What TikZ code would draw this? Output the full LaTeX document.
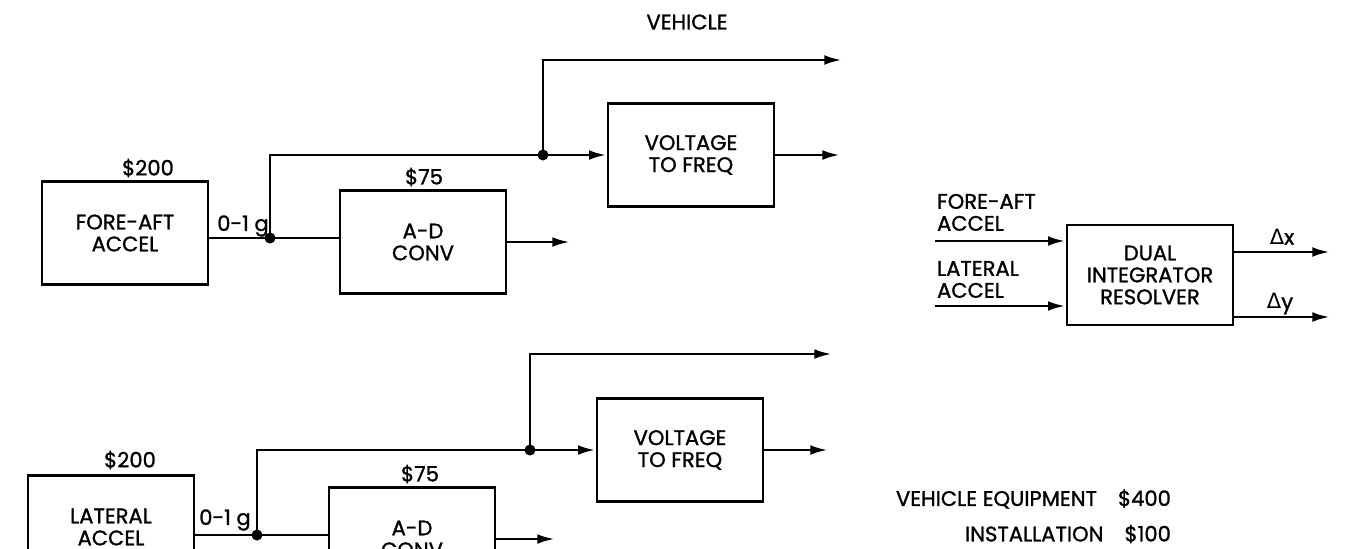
\documentclass[tikz,border=0pt]{standalone}
\usepackage{fontspec}
\setmainfont{Poppins}[FakeBold=1.2]
\newfontfamily\grk{DejaVu Sans}
\usetikzlibrary{arrows.meta}
\begin{document}
\begin{tikzpicture}[x=0.02cm,y=-0.02cm,>={Latex[length=10pt,width=5.5pt]},font=\fontsize{12}{12.5}\selectfont]
  \tikzstyle{block}=[draw, line width=1.6pt, minimum width=3.32cm, minimum height=2.06cm, align=center, inner sep=2pt]
  \tikzstyle{wire}=[line width=1.6pt]
  \tikzstyle{sig}=[wire, ->]
  \tikzstyle{dot}=[circle, fill, inner sep=0pt, minimum size=0.22cm]
  \tikzstyle{label}=[inner sep=1pt, align=center]

  \useasboundingbox (0,0) rectangle (1345,548);
  \clip (0,0) rectangle (1345,548);

  \node[label] (veh) at (687,22) {VEHICLE};

  % fore-aft channel
  \node[block] (accx) at (125,233) {FORE-AFT\\ACCEL};
  \node[label] (costx) at (148,168) {\$200};
  \node[block] (adx) at (423,242) {A-D\\CONV};
  \node[label] (adcx) at (424,177) {\$75};
  \node[block] (vfx) at (691,155) {VOLTAGE\\TO FREQ};
  \coordinate (jx) at (270,238);
  \coordinate (kx) at (543,155);
  \coordinate (outx) at (842,60);
  \coordinate (adox) at (570,242);
  \coordinate (vfox) at (840,155);
  \node[label] (gx) at (243,226) {0-1 g};

  \draw[wire] (accx.east |- jx) -- (jx) -- (adx.west |- jx);
  \draw[wire] (jx) |- (kx);
  \draw[sig] (kx) -- (vfx);
  \draw[sig] (kx) |- (outx);
  \draw[sig] (adx) -- (adox);
  \draw[sig] (vfx) -- (vfox);
  \node[dot] (jxd) at (jx) {};
  \node[dot] (kxd) at (kx) {};

  % lateral channel
  \node[block] (accy) at (111,527) {LATERAL\\ACCEL};
  \node[label] (costy) at (130,460) {\$200};
  \node[block] (ady) at (412,539) {A-D\\CONV};
  \node[label] (adcy) at (420,474) {\$75};
  \node[block] (vfy) at (680,450) {VOLTAGE\\TO FREQ};
  \coordinate (jy) at (257,535);
  \coordinate (ky) at (530,450);
  \coordinate (outy) at (832,354);
  \coordinate (adoy) at (555,539);
  \coordinate (vfoy) at (828,450);
  \node[label] (gy) at (225,520) {0-1 g};

  \draw[wire] (accy.east |- jy) -- (jy) -- (ady.west |- jy);
  \draw[wire] (jy) |- (ky);
  \draw[sig] (ky) -- (vfy);
  \draw[sig] (ky) |- (outy);
  \draw[sig] (ady) -- (adoy);
  \draw[sig] (vfy) -- (vfoy);
  \node[dot] (jyd) at (jy) {};
  \node[dot] (kyd) at (ky) {};

  % integrator
  \node[block, minimum height=2cm] (dual) at (1150,275) {DUAL\\INTEGRATOR\\RESOLVER};
  \coordinate (inx) at (935,241);
  \coordinate (iny) at (935,306);
  \coordinate (ox) at (1330,252);
  \coordinate (oy) at (1330,317);
  \draw[sig] (inx) -- (dual.west |- inx);
  \draw[sig] (iny) -- (dual.west |- iny);
  \draw[sig] (dual.east |- ox) -- (ox);
  \draw[sig] (dual.east |- oy) -- (oy);
  \node[label, anchor=south west, align=left] (linx) at (935,233) {FORE-AFT\\ACCEL};
  \node[label, anchor=south west, align=left] (liny) at (935,300) {LATERAL\\ACCEL};
  \node[label] (dx) at (1282,237) {{\grk Δ}x};
  \node[label] (dy) at (1280,304) {{\grk Δ}y};

  % costs
  \node[label, anchor=east] (veq) at (1173,499) {VEHICLE EQUIPMENT\quad\$400};
  \node[label, anchor=east] (inst) at (1173,534) {INSTALLATION\quad\$100};
\end{tikzpicture}
\end{document}
